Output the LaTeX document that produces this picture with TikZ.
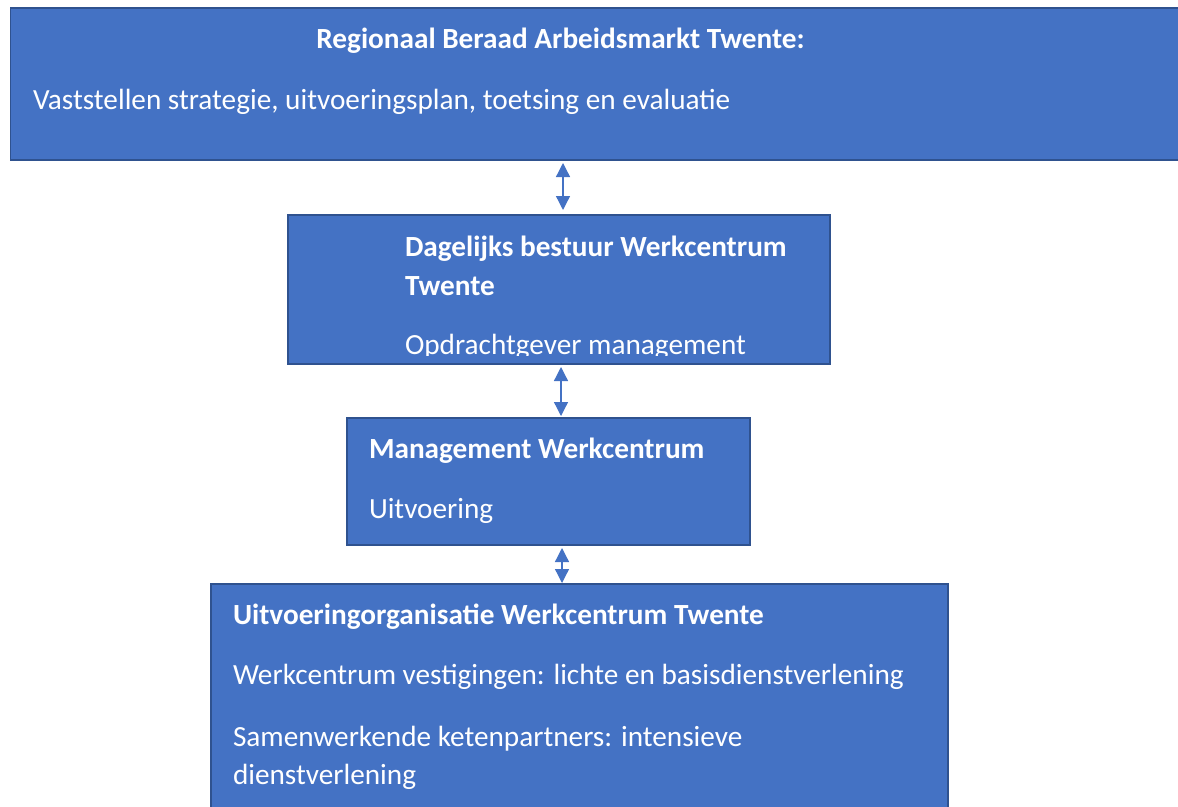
\documentclass[tikz,border=0pt]{standalone}
\usepackage{fontspec}
\setmainfont{Carlito}
\usetikzlibrary{arrows.meta}
\definecolor{boxfill}{HTML}{4472C4}
\definecolor{boxline}{HTML}{2F528F}
\begin{document}
\begin{tikzpicture}[x=1pt,y=-1pt,
  box/.style={draw=boxline,fill=boxfill,line width=1.5pt,rectangle,inner sep=0pt,outer sep=0pt,anchor=north west},
  txt/.style={text=white,inner sep=0pt,outer sep=0pt,anchor=base west,font=\fontsize{29.25}{34}\selectfont},
  btxt/.style={txt,font=\fontsize{29.25}{34}\selectfont\bfseries},
  link/.style={draw=boxfill,line width=1.3pt,{Triangle[width=14pt,length=14pt]}-{Triangle[width=14pt,length=14pt]}}]
\useasboundingbox (0,0) rectangle (1178,806);
\clip (0,0) rectangle (1178,806);
\node[box,minimum width=1190pt,minimum height=152pt] (b1) at (10.5,8) {};
\node[box,minimum width=542pt,minimum height=149pt] (b2) at (288,215) {};
\node[box,minimum width=403pt,minimum height=127pt] (b3) at (347,418) {};
\node[box,minimum width=737pt,minimum height=260pt] (b4) at (211,584) {};
% texts
\node[btxt,anchor=base] (t1) at (560.5,48.5) {Regionaal Beraad Arbeidsmarkt Twente:};
\node[txt] (t2) at (33,109.5) {Vaststellen strategie, uitvoeringsplan, toetsing en evaluatie};
\node[btxt] (t3) at (405,256.5) {Dagelijks bestuur Werkcentrum};
\node[btxt] (t4) at (405,295.5) {Twente};
\begin{scope}
\clip (288,215) rectangle (830,355);
\node[txt] (t5) at (405,354) {Opdrachtgever management};
\end{scope}
\node[btxt] (t6) at (369,458.5) {Management Werkcentrum};
\node[txt] (t7) at (369,518.5) {Uitvoering};
\node[btxt] (t8) at (233,624) {Uitvoeringorganisatie Werkcentrum Twente};
\node[txt] (t9) at (233,684.5) {Werkcentrum vestigingen: lichte en basisdienstverlening};
\node[txt] (t10) at (233,746) {Samenwerkende ketenpartners: intensieve};
\node[txt] (t11) at (233,784) {dienstverlening};
% connectors
\coordinate (x1) at (563,0);
\coordinate (x2) at (561,0);
\coordinate (x3) at (562,0);
\draw[link,shorten <=3pt,shorten >=5pt] (b1.south -| x1) -- (b2.north -| x1);
\draw[link,shorten <=3pt,shorten >=2pt] (b2.south -| x2) -- (b3.north -| x2);
\draw[link,shorten <=3pt,shorten >=1pt] (b3.south -| x3) -- (b4.north -| x3);
\end{tikzpicture}
\end{document}
